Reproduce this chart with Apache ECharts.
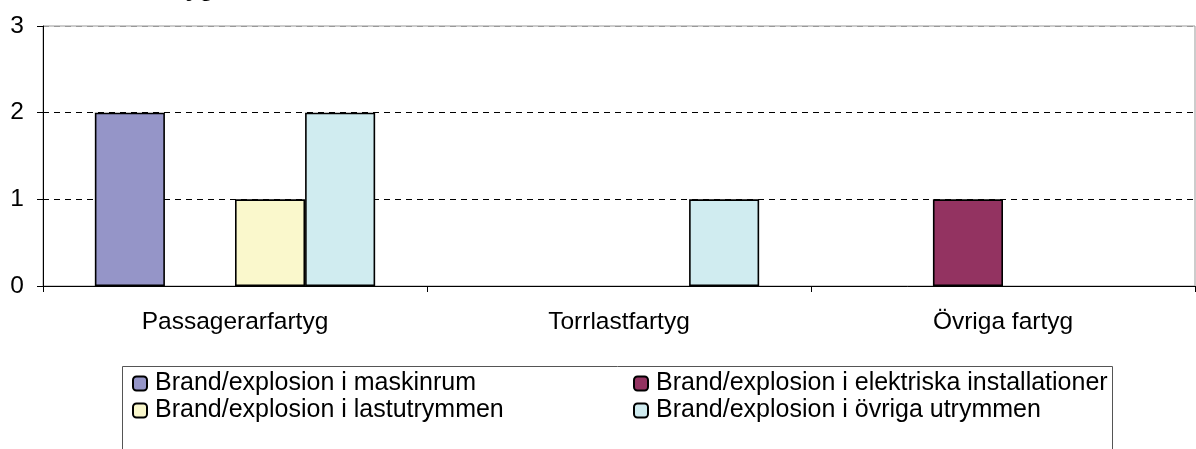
<!DOCTYPE html>
<html>
<head>
<meta charset="utf-8">
<script src="https://cdn.jsdelivr.net/npm/echarts@6/dist/echarts.min.js"></script>
<style>
  html, body { margin: 0; padding: 0; background: #fff; }
  #chart { width: 1196px; height: 449px; }
</style>
</head>
<body>
<div id="chart"></div>
<script>
  // kategorier och värden
  const categories = ['Passagerarfartyg', 'Torrlastfartyg', 'Övriga fartyg'];
  const maskinrum = [2, 0, 0];
  const elektriska = [0, 0, 1];
  const lastutrymmen = [1, 0, 0];
  const ovriga = [2, 1, 0];
  const names = [
    'Brand/explosion i maskinrum',
    'Brand/explosion i elektriska installationer',
    'Brand/explosion i lastutrymmen',
    'Brand/explosion i övriga utrymmen'
  ];
  const colors = ['#9595c8', '#933361', '#faf8cc', '#d0ecf0'];

  const font = 'Liberation Sans, Arial, sans-serif';
  const fs = 24.5;
  const chart = echarts.init(document.getElementById('chart'));

  function bar(name, data, color) {
    return {
      name: name,
      type: 'bar',
      // nollor ritas inte (ingen kantlinje på axeln)
      data: data.map(v => v === 0 ? '-' : v),
      barGap: '0%',
      barCategoryGap: '27%',
      itemStyle: { color: color, borderColor: '#000', borderWidth: 1.6 },
      emphasis: { disabled: true }
    };
  }

  const legendText = { fontSize: 25, color: '#000', fontFamily: font, padding: [0, 0, 0, 3] };

  chart.setOption({
    animation: false,
    textStyle: { fontFamily: font },
    title: {
      text: 'Antal fartyg',
      left: 73,
      top: -28,
      textStyle: { fontFamily: font, fontSize: fs, fontWeight: 'bold', color: '#000' }
    },
    grid: {
      left: 43, right: 1, top: 26, bottom: 163,
      show: true, borderColor: '#999', borderWidth: 1
    },
    xAxis: {
      type: 'category',
      data: categories,
      axisLine: { lineStyle: { color: '#000', width: 1 } },
      axisTick: { show: true, length: 6, lineStyle: { color: '#000' } },
      axisLabel: { fontSize: fs, color: '#000', margin: 24, fontFamily: font }
    },
    yAxis: {
      type: 'value',
      min: 0, max: 3, interval: 1,
      axisLine: { show: true, lineStyle: { color: '#000', width: 1 } },
      axisTick: { show: true, length: 6, lineStyle: { color: '#000' } },
      axisLabel: { fontSize: fs, color: '#000', margin: 19, fontFamily: font },
      splitLine: { lineStyle: { color: ['#000', '#000', '#000', '#999'], type: [6, 5] } }
    },
    legend: [{
      data: [names[0], names[2]],
      orient: 'vertical',
      left: 127, top: 366,
      itemWidth: 14, itemHeight: 14, itemGap: 2,
      textStyle: legendText,
      selectedMode: false
    }, {
      data: [names[1], names[3]],
      orient: 'vertical',
      left: 628, top: 366,
      itemWidth: 14, itemHeight: 14, itemGap: 2,
      textStyle: legendText,
      selectedMode: false
    }],
    graphic: [{
      type: 'rect',
      shape: { x: 122.5, y: 366.5, width: 990, height: 100 },
      style: { fill: 'none', stroke: '#555', lineWidth: 1 },
      silent: true
    }],
    series: [
      bar(names[0], maskinrum, colors[0]),
      bar(names[1], elektriska, colors[1]),
      bar(names[2], lastutrymmen, colors[2]),
      bar(names[3], ovriga, colors[3])
    ]
  });
</script>
</body>
</html>
